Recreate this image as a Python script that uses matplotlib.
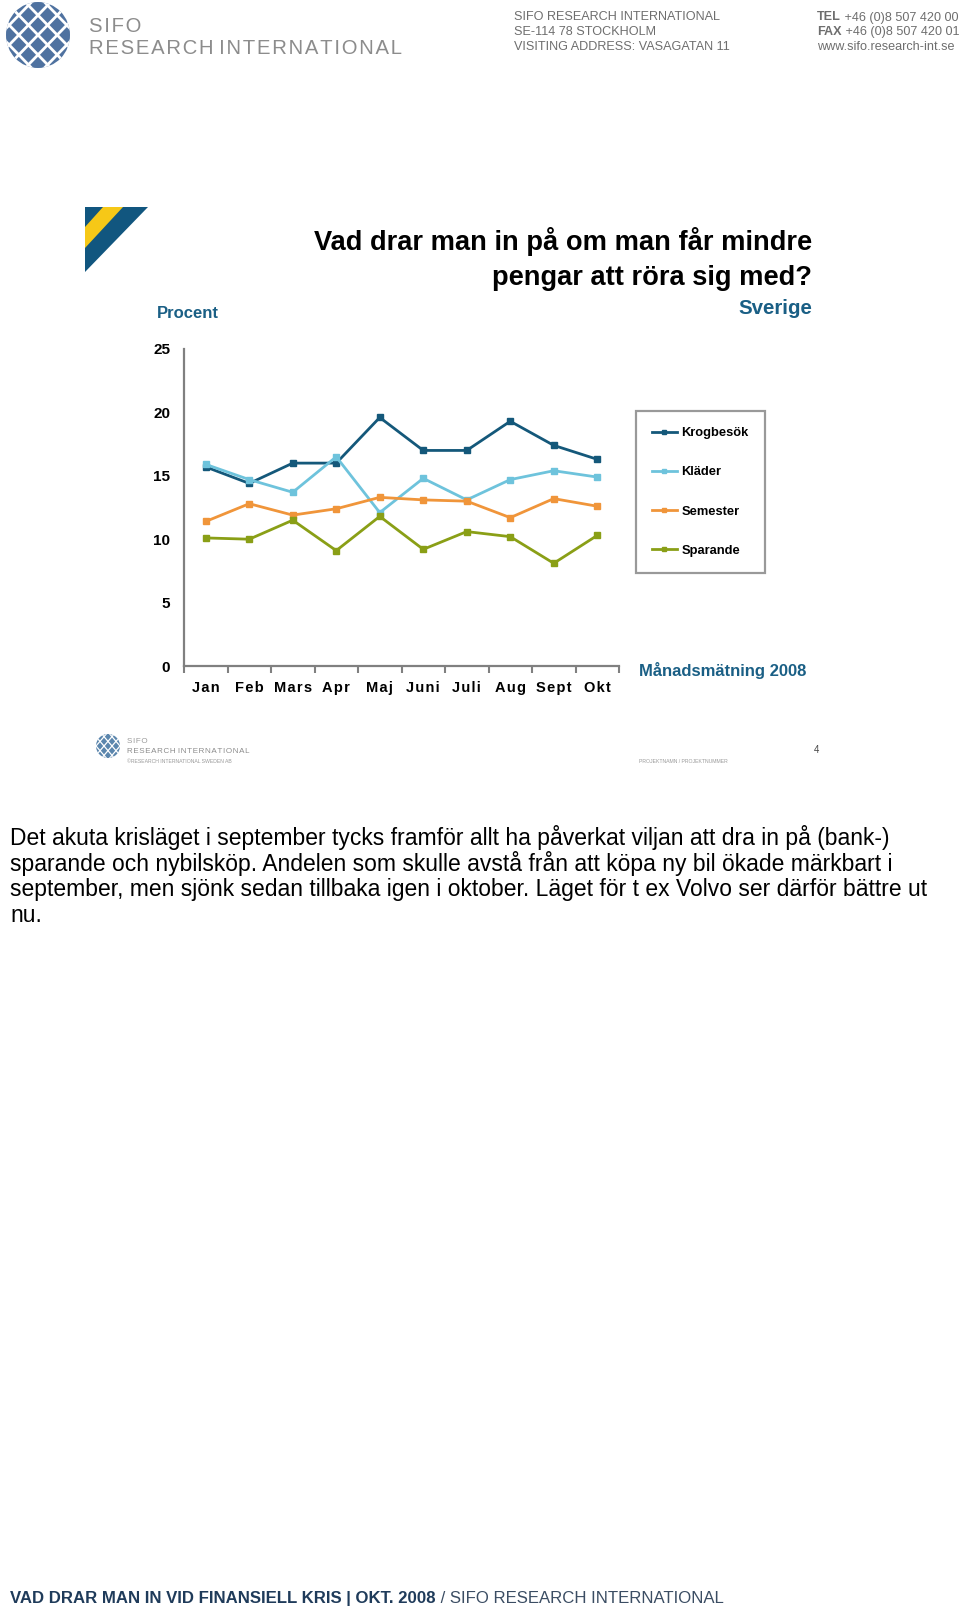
import numpy as np
import matplotlib.pyplot as plt
from matplotlib.patches import Ellipse, Polygon
from matplotlib.lines import Line2D

plt.rcParams['font.family'] = ['Liberation Sans', 'DejaVu Sans']

# Data (procent, Sverige, 2008)
months = ["Jan", "Feb", "Mars", "Apr", "Maj", "Juni", "Juli", "Aug", "Sept", "Okt"]
krogbesok = [15.7, 14.4, 16.0, 16.0, 19.6, 17.0, 17.0, 19.3, 17.4, 16.3]
klader = [15.9, 14.7, 13.7, 16.5, 12.1, 14.8, 13.1, 14.7, 15.4, 14.9]
semester = [11.4, 12.8, 11.9, 12.4, 13.3, 13.1, 13.0, 11.7, 13.2, 12.6]
sparande = [10.1, 10.0, 11.5, 9.1, 11.8, 9.2, 10.6, 10.2, 8.1, 10.3]
series_names = ["Krogbesök", "Kläder", "Semester", "Sparande"]
series_colors = ["#14587a", "#6ec3dc", "#f0953a", "#8a9f16"]
y_ticks = [0, 5, 10, 15, 20, 25]

teal = "#1a5f85"
W, H = 960, 1610
HS = "\u200a"  # hair space for letter spacing


def spaced(s):
    return " ".join(HS.join(w) for w in s.split(" "))


fig = plt.figure(figsize=(W / 100, H / 100), dpi=100)

# overlay in pixel coordinates for the page decorations
ov = fig.add_axes([0, 0, 1, 1])
ov.set_xlim(0, W)
ov.set_ylim(H, 0)
ov.axis('off')

# --- header logo
def draw_logo(cx, cy, rx, ry, lw, col):
    e = Ellipse((cx, cy), 2 * rx, 2 * ry, facecolor=col, edgecolor="none")
    ov.add_patch(e)
    for k in np.linspace(-1.2, 1.2, 5):
        for sgn in (1, -1):
            l = Line2D([cx - rx * 1.2 + k * rx, cx + rx * 1.2 + k * rx],
                       [cy - sgn * ry * 1.2, cy + sgn * ry * 1.2], color="white", lw=lw)
            ov.add_line(l)
            l.set_clip_path(e)

draw_logo(38, 35, 32, 33, 2.0, "#4f72a0")
ov.text(89, 26, spaced("SIFO"), fontsize=14.6, color="#8c8c8c", va="center", ha="left")
ov.text(89, 48, spaced("RESEARCH INTERNATIONAL"), fontsize=14.6,
        color="#8c8c8c", va="center", ha="left")

hdr_gray = "#6e6e6e"
for i, s in enumerate(["SIFO RESEARCH INTERNATIONAL", "SE-114 78 STOCKHOLM",
                       "VISITING ADDRESS: VASAGATAN 11"]):
    ov.text(514, 17.5 + 14.5 * i, s, fontsize=9.1, color=hdr_gray, va="center", ha="left")
t = ov.text(817, 17.5, "TEL", fontsize=9.1, color=hdr_gray, va="center", ha="left", weight="bold")
ov.annotate(" +46 (0)8 507 420 00", xy=(1, 0.5), xycoords=t, fontsize=9.1,
            color=hdr_gray, va="center", ha="left")
t = ov.text(817, 32, "FAX", fontsize=9.1, color=hdr_gray, va="center", ha="left", weight="bold")
ov.annotate(" +46 (0)8 507 420 01", xy=(1, 0.5), xycoords=t, fontsize=9.1,
            color=hdr_gray, va="center", ha="left")
ov.text(817, 47, "www.sifo.research-int.se", fontsize=9.1, color=hdr_gray, va="center", ha="left")

# --- blue/yellow corner mark
ov.add_patch(Polygon([(85, 207), (148, 207), (85, 272)], closed=True,
                     facecolor="#11567f", edgecolor="none"))
ov.add_patch(Polygon([(103, 207), (123, 207), (85, 248), (85, 227)], closed=True,
                     facecolor="#f6c817", edgecolor="none"))

# --- titles
ov.text(812, 242, "Vad drar man in på om man får mindre", fontsize=19.6,
        weight="bold", ha="right", va="center", color="black")
ov.text(812, 278, "pengar att röra sig med?", fontsize=19.6,
        weight="bold", ha="right", va="center", color="black")
ov.text(812, 308, "Sverige", fontsize=14.8, weight="bold", ha="right", va="center", color=teal)
ov.text(157, 314, "Procent", fontsize=12, weight="bold", ha="left", va="center", color=teal)
ov.text(639, 670, "Månadsmätning 2008", fontsize=12, weight="bold", ha="left",
        va="center", color=teal)

# --- chart
ax = fig.add_axes([184 / W, 1 - 666 / H, 435 / W, 317 / H])
x = np.arange(len(months)) + 0.5
for name, vals, col in zip(series_names, [krogbesok, klader, semester, sparande], series_colors):
    ax.plot(x, vals, color=col, lw=2.0, marker="s", markersize=5, label=name,
            solid_joinstyle="miter")
ax.set_xlim(0, len(months))
ax.set_ylim(0, 25)
ax.set_yticks(y_ticks)
ax.set_yticklabels([str(v) for v in y_ticks], fontsize=11, weight="bold")
ax.set_xticks(np.arange(len(months) + 1))
ax.set_xticklabels([])
ax.set_xticks(x, minor=True)
ax.set_xticklabels([spaced(m) for m in months], minor=True, fontsize=10.5, weight="bold")
ax.tick_params(axis="x", which="major", length=5, width=1.5, color="#808080", direction="out")
ax.tick_params(axis="x", which="minor", length=0, pad=11)
ax.tick_params(axis="y", length=0, pad=10)
for sp in ["top", "right"]:
    ax.spines[sp].set_visible(False)
for sp in ["left", "bottom"]:
    ax.spines[sp].set_color("#808080")
    ax.spines[sp].set_linewidth(1.6)
ax.patch.set_alpha(0)

handles, labels = ax.get_legend_handles_labels()
leg = fig.legend(handles, labels, loc="upper left",
                 bbox_to_anchor=(636 / W, 1 - 411 / H),
                 prop={"size": 9.3, "weight": "bold"}, frameon=True, fancybox=False,
                 handlelength=1.9, handletextpad=0.35, labelspacing=2.1,
                 borderpad=1.25, borderaxespad=0, markerscale=0.7)
leg.get_frame().set_edgecolor("#808080")
leg.get_frame().set_linewidth(1.6)

# --- slide footer strip
e = Ellipse((108, 746), 24, 24, facecolor="#5b86ad", edgecolor="none")
ov.add_patch(e)
for k in np.linspace(-1.0, 1.0, 4):
    for sgn in (1, -1):
        l = Line2D([96 + k * 12, 120 + k * 12], [746 - sgn * 14, 746 + sgn * 14],
                   color="white", lw=0.9)
        ov.add_line(l)
        l.set_clip_path(e)
ov.text(127, 741, spaced("SIFO"), fontsize=5.8, color="#9a9a9a", va="center")
ov.text(127, 751, spaced("RESEARCH INTERNATIONAL"), fontsize=5.8,
        color="#8c8c8c", va="center")
ov.text(127, 761, "©RESEARCH INTERNATIONAL SWEDEN AB", fontsize=3.7, color="#9a9a9a", va="center")
ov.text(639, 761, "PROJEKTNAMN / PROJEKTNUMMER", fontsize=3.7, color="#9a9a9a", va="center")
ov.text(816, 750, "4", fontsize=7, color="#444444", va="center", ha="center")

# --- paragraph
para = ["Det akuta krisläget i september tycks framför allt ha påverkat viljan att dra in på (bank-)",
        "sparande och nybilsköp. Andelen som skulle avstå från att köpa ny bil ökade märkbart i",
        "september, men sjönk sedan tillbaka igen i oktober. Läget för t ex Volvo ser därför bättre ut",
        "nu."]
for i, s in enumerate(para):
    ov.text(10, 837 + 26.3 * i, s, fontsize=16.5, color="black", va="center", ha="left")

# --- page footer
t = ov.text(10, 1598, "VAD DRAR MAN IN VID FINANSIELL KRIS | OKT. 2008", fontsize=12.1,
            weight="bold", color="#1f3b5a", va="center", ha="left")
ov.annotate(" / SIFO RESEARCH INTERNATIONAL", xy=(1, 0.5), xycoords=t, fontsize=12.1,
            color="#3b4d63", va="center", ha="left")

fig.savefig("out.png", dpi=100)
